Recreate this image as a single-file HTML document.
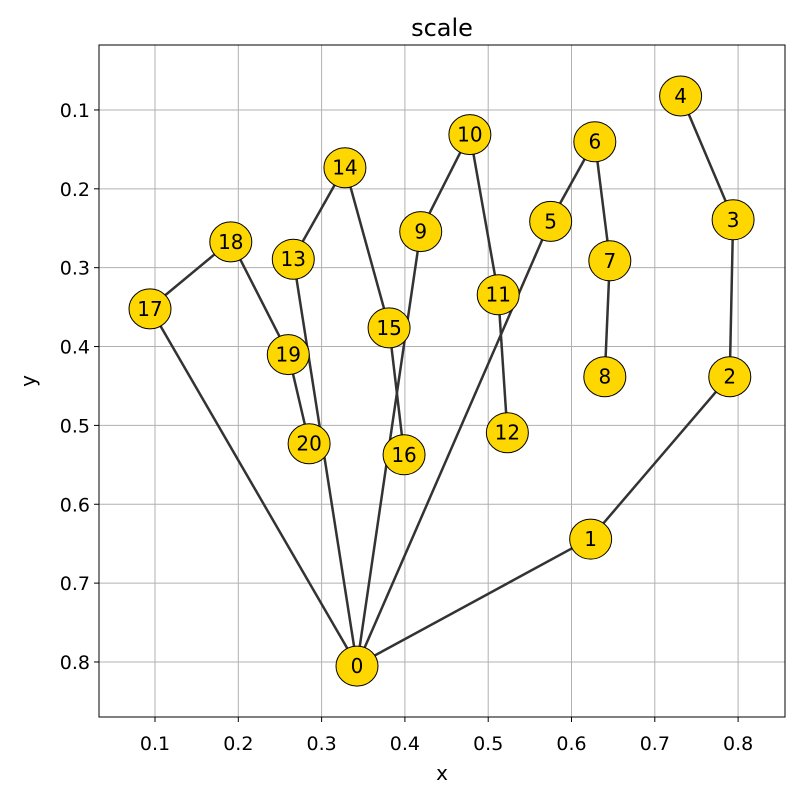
<!DOCTYPE html>
<html><head><meta charset="utf-8"><style>
body{margin:0;background:#fff}
text{font-family:"DejaVu Sans","Liberation Sans",sans-serif}
</style></head><body>
<svg id="chart" width="800" height="800" xmlns="http://www.w3.org/2000/svg">
<rect width="800" height="800" fill="#fff"/>
<g id="grid"></g>
<g id="edges"></g>
<g id="nodes"></g>
<rect x="99" y="45" width="686" height="672" fill="none" stroke="#000" stroke-width="1"/>
<g id="axes"></g>
<text x="442" y="36" font-size="24" text-anchor="middle">scale</text>
<text x="442" y="780" font-size="20" text-anchor="middle">x</text>
<text x="35" y="381" font-size="20" text-anchor="middle" transform="rotate(-90 35 381)">y</text>
</svg>
<script>
const nodeIds=[0,1,2,3,4,5,6,7,8,9,10,11,12,13,14,15,16,17,18,19,20];
const nodeX=[0.3425,0.623,0.790,0.794,0.731,0.575,0.628,0.646,0.640,0.419,0.478,0.512,0.523,0.266,0.328,0.381,0.399,0.094,0.191,0.260,0.285];
const nodeY=[0.804,0.643,0.437,0.238,0.081,0.240,0.139,0.290,0.437,0.253,0.130,0.333,0.508,0.288,0.172,0.375,0.536,0.351,0.266,0.409,0.522];
const edgeFrom=[0,1,2,3,0,5,6,7,0,9,10,11,0,13,14,15,0,17,18,19];
const edgeTo=[1,2,3,4,5,6,7,8,9,10,11,12,13,14,15,16,17,18,19,20];
const xTicks=[0.1,0.2,0.3,0.4,0.5,0.6,0.7,0.8];
const yTicks=[0.1,0.2,0.3,0.4,0.5,0.6,0.7,0.8];
const L=99,R=785,T=45,B=717;
const sx=v=>71.7+v*833;
const sy=v=>31.1+v*788.6;
const NS="http://www.w3.org/2000/svg";
function mk(tag,attrs,parent){const e=document.createElementNS(NS,tag);for(const k in attrs)e.setAttribute(k,attrs[k]);parent.appendChild(e);return e;}
const grid=document.getElementById('grid'),axes=document.getElementById('axes');
xTicks.forEach(t=>{const x=sx(t);
 const g=mk('line',{x1:x,x2:x,y1:T,y2:B,stroke:'#b0b0b0','stroke-width':1},grid);
 
 
 const tk=mk('line',{x1:x,x2:x,y1:B,y2:B+5,stroke:'#000'},axes);
 
 
 const lb=mk('text',{x:x,y:B+33,'font-size':19,'text-anchor':'middle'},axes);lb.textContent=t.toFixed(1);
 
 
});
yTicks.forEach(t=>{const y=sy(t);
 const g=mk('line',{x1:L,x2:R,y1:y,y2:y,stroke:'#b0b0b0','stroke-width':1},grid);
 
 
 const tk=mk('line',{x1:L-5,x2:L,y1:y,y2:y,stroke:'#000'},axes);
 
 
 const lb=mk('text',{x:L-9,y:y+7,'font-size':19,'text-anchor':'end'},axes);lb.textContent=t.toFixed(1);
 
 
});
const eg=document.getElementById('edges');
edgeFrom.forEach((a,i)=>{const b=edgeTo[i];
 const l=mk('line',{x1:sx(nodeX[a]),y1:sy(nodeY[a]),x2:sx(nodeX[b]),y2:sy(nodeY[b]),stroke:'#333','stroke-width':2.5},eg);
 
 
});
const ng=document.getElementById('nodes');
nodeIds.forEach((id,i)=>{
 const c=mk('ellipse',{cx:sx(nodeX[i]),cy:sy(nodeY[i])+1,rx:21,ry:20,fill:'#ffd700',stroke:'#000','stroke-width':1},ng);
 
 
 const t=mk('text',{x:sx(nodeX[i]),y:sy(nodeY[i])+8,'font-size':20,'text-anchor':'middle'},ng);t.textContent=id;
 
 
});
</script>
</body></html>
